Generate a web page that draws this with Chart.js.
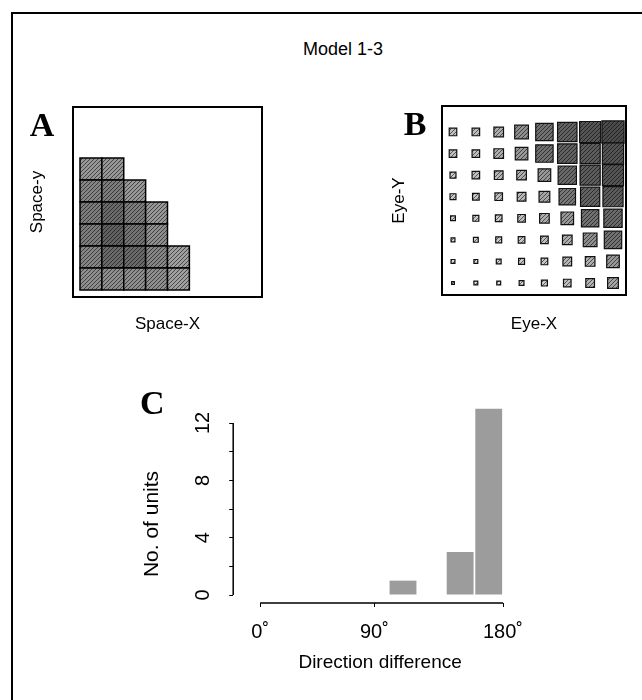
<!DOCTYPE html>
<html>
<head>
<meta charset="utf-8">
<script src="https://cdn.jsdelivr.net/npm/chart.js@4.4.1/dist/chart.umd.min.js"></script>
<style>
  body { margin: 0; background: #fff; width: 642px; height: 700px; overflow: hidden; position: relative;
         font-family: "Liberation Sans", Arial, sans-serif; }
  .frame { position: absolute; left: 11px; top: 12px; width: 700px; height: 720px;
           border-left: 2.5px solid #000; border-top: 2.5px solid #000; }
  canvas { position: absolute; }
  #heading { position: absolute; left: 343px; top: 49px; transform: translate(-50%, -50%);
             font-size: 18px; white-space: nowrap; }
</style>
</head>
<body>
<div class="frame"></div>
<div id="heading">Model 1-3</div>
<canvas id="spaceChart" width="259" height="245" style="left:13px;top:96px"></canvas>
<canvas id="eyeChart" width="256" height="245" style="left:380px;top:96px"></canvas>
<canvas id="dirChart" width="407" height="304" style="left:120px;top:372px"></canvas>
<script>
// Panel A: response of each space cell, top row first (null = no unit there)
const spaceResp = [
  [0.55, 0.55, null, null, null],
  [0.65, 0.70, 0.55, null, null],
  [0.70, 0.80, 0.70, 0.55, null],
  [0.70, 0.85, 0.75, 0.60, null],
  [0.65, 0.80, 0.80, 0.65, 0.50],
  [0.60, 0.60, 0.60, 0.60, 0.50]
];

// Panel B: square size per eye-position cell (1 = whole cell), top row first
const eyeSize = [
  [0.33, 0.33, 0.42, 0.60, 0.76, 0.85, 0.92, 0.97],
  [0.33, 0.33, 0.42, 0.55, 0.76, 0.85, 0.88, 0.93],
  [0.26, 0.33, 0.38, 0.42, 0.55, 0.80, 0.88, 0.92],
  [0.26, 0.29, 0.33, 0.38, 0.47, 0.72, 0.84, 0.88],
  [0.21, 0.26, 0.29, 0.33, 0.42, 0.55, 0.76, 0.80],
  [0.17, 0.21, 0.26, 0.29, 0.33, 0.42, 0.60, 0.76],
  [0.17, 0.17, 0.21, 0.26, 0.29, 0.38, 0.42, 0.55],
  [0.12, 0.17, 0.17, 0.21, 0.26, 0.33, 0.38, 0.47]
];

// Panel C: histogram of direction differences
const dirBins = [1, 2, 3, 4, 5, 6, 7, 8];
const unitCounts = [0, 0, 0, 0, 1, 0, 3, 13];
const dirTickPos = [0, 4, 8.5];
const dirTickLabels = ['0˚', '90˚', '180˚'];
const countTicks = [0, 2, 4, 6, 8, 10, 12];

Chart.defaults.font.family = '"Liberation Sans", Arial, sans-serif';
Chart.defaults.font.size = 17;
Chart.defaults.color = '#000';
Chart.defaults.animation = false;
Chart.defaults.plugins.legend.display = false;
Chart.defaults.plugins.tooltip.enabled = false;

// grey fill with diagonal shading lines, darker for larger values
function hatch(v) {
  const g = Math.round(250 - 180 * v);
  const d = Math.round(g * 0.45);
  const c = document.createElement('canvas');
  c.width = c.height = 4;
  const x = c.getContext('2d');
  x.fillStyle = `rgb(${g},${g},${g})`;
  x.fillRect(0, 0, 4, 4);
  x.strokeStyle = `rgb(${d},${d},${d})`;
  x.lineWidth = 1;
  x.beginPath();
  x.moveTo(0, 4); x.lineTo(4, 0);
  x.moveTo(-1, 1); x.lineTo(1, -1);
  x.moveTo(3, 5); x.lineTo(5, 3);
  x.stroke();
  return x.createPattern(c, 'repeat');
}

function cellPx(chart) {
  const sx = chart.scales.x;
  return Math.abs(sx.getPixelForValue(1) - sx.getPixelForValue(0));
}

const boxFrame = {
  id: 'boxFrame',
  afterDatasetsDraw(chart) {
    const {ctx, chartArea: a} = chart;
    ctx.save();
    ctx.lineWidth = 2;
    ctx.strokeStyle = '#000';
    ctx.strokeRect(a.left, a.top, a.right - a.left, a.bottom - a.top);
    ctx.restore();
  }
};

const panelLetter = {
  id: 'panelLetter',
  afterDraw(chart, args, opts) {
    const {ctx, chartArea: a} = chart;
    ctx.save();
    ctx.font = 'bold 34px "Liberation Serif", serif';
    ctx.fillStyle = '#000';
    ctx.textAlign = 'center';
    ctx.textBaseline = 'middle';
    ctx.fillText(opts.text, a.left + opts.dx, a.top + opts.dy);
    ctx.restore();
  }
};

function frameAxis(title, min, max, size, pad) {
  return {
    type: 'linear', min, max,
    ticks: { display: false },
    grid: { display: false },
    border: { display: false },
    title: { display: true, text: title, padding: pad },
    afterFit: s => { if (s.isHorizontal()) s.height = size; else s.width = size; }
  };
}

// A: filled space grid
const spacePts = [], spaceFill = [];
spaceResp.forEach((row, r) => row.forEach((v, c) => {
  if (v === null) return;
  spacePts.push({ x: c + 1, y: spaceResp.length - r });
  spaceFill.push(hatch(v));
}));

new Chart(document.getElementById('spaceChart'), {
  type: 'scatter',
  data: {
    datasets: [{
      data: spacePts,
      pointStyle: 'rect',
      pointRadius: ctx => cellPx(ctx.chart) / Math.SQRT2,
      pointBackgroundColor: ctx => spaceFill[ctx.dataIndex],
      pointBorderColor: '#000',
      pointBorderWidth: 1.5
    }]
  },
  options: {
    responsive: false,
    events: [],
    layout: { padding: { top: 11, right: 10, left: 0, bottom: 0 } },
    scales: {
      x: frameAxis('Space-X', 0.18, 8.82, 44, { top: 0, bottom: 6 }),
      y: frameAxis('Space-y', 0.18, 8.82, 60, { top: 14, bottom: 0 })
    },
    plugins: { panelLetter: { text: 'A', dx: -31, dy: 20 } }
  },
  plugins: [boxFrame, panelLetter]
});

// B: squares scaled by eye-position response
const eyePts = [], eyeFill = [];
eyeSize.forEach((row, r) => row.forEach((s, c) => {
  eyePts.push({ x: c + 1, y: eyeSize.length - r, s });
  eyeFill.push(hatch(s));
}));

new Chart(document.getElementById('eyeChart'), {
  type: 'scatter',
  data: {
    datasets: [{
      data: eyePts,
      pointStyle: 'rect',
      pointRadius: ctx => (ctx.raw ? ctx.raw.s : 0) * cellPx(ctx.chart) / Math.SQRT2,
      pointBackgroundColor: ctx => eyeFill[ctx.dataIndex],
      pointBorderColor: '#111',
      pointBorderWidth: 1.2
    }]
  },
  options: {
    responsive: false,
    events: [],
    layout: { padding: { top: 10, right: 10, left: 0, bottom: 0 } },
    scales: {
      x: frameAxis('Eye-X', 0.519, 8.569, 46, { top: 0, bottom: 6 }),
      y: frameAxis('Eye-Y', 0.444, 9.205, 62, { top: 9, bottom: 0 })
    },
    plugins: { panelLetter: { text: 'B', dx: -27, dy: 20 } }
  },
  plugins: [boxFrame, panelLetter]
});

// C: histogram, axis lines only span the labelled range
const axisLines = {
  id: 'axisLines',
  afterDraw(chart) {
    const {ctx, chartArea: a, scales: {x, y}} = chart;
    ctx.save();
    ctx.strokeStyle = '#000';
    ctx.lineWidth = 1.5;
    ctx.beginPath();
    ctx.moveTo(a.left, y.getPixelForValue(countTicks[0]));
    ctx.lineTo(a.left, y.getPixelForValue(countTicks[countTicks.length - 1]));
    ctx.moveTo(x.getPixelForValue(dirTickPos[0]), a.bottom);
    ctx.lineTo(x.getPixelForValue(dirTickPos[dirTickPos.length - 1]), a.bottom);
    ctx.stroke();
    ctx.restore();
  }
};

new Chart(document.getElementById('dirChart'), {
  type: 'bar',
  data: {
    datasets: [{
      data: dirBins.map((b, i) => ({ x: b, y: unitCounts[i] })),
      backgroundColor: '#9c9c9c',
      borderWidth: 0,
      barPercentage: 0.94,
      categoryPercentage: 1,
      clip: false
    }]
  },
  options: {
    responsive: false,
    events: [],
    layout: { padding: { top: 0, left: 20, right: 0, bottom: 0 } },
    scales: {
      x: {
        type: 'linear', min: -0.944, max: 9.34, offset: false,
        afterBuildTicks: s => { s.ticks = dirTickPos.map(v => ({ value: v })); },
        ticks: { autoSkip: false, maxRotation: 0, padding: 13, font: { size: 20 },
                 callback: (v, i) => dirTickLabels[i] },
        grid: { offset: false, drawOnChartArea: false, tickLength: 4, color: '#000' },
        border: { display: false },
        title: { display: true, text: 'Direction difference', font: { size: 19 },
                 padding: { top: 0, bottom: 1.6 } },
        afterFit: s => { s.height = 73; s.paddingLeft = 0; s.paddingRight = 0; }
      },
      y: {
        type: 'linear', min: -0.558, max: 12,
        afterBuildTicks: s => { s.ticks = countTicks.map(v => ({ value: v })); },
        ticks: { autoSkip: false, minRotation: 90, maxRotation: 90, crossAlign: 'center',
                 padding: 15, font: { size: 20 },
                 callback: v => (v % 4 === 0 ? v : '') },
        grid: { drawOnChartArea: false, tickLength: 4, color: '#000' },
        border: { display: false },
        afterFit: s => { s.width = 68; s.paddingTop = 0; s.paddingBottom = 0; }
      }
    },
    plugins: {
      title: { display: true, text: 'C', position: 'top', align: 'start',
               font: { family: '"Liberation Serif", serif', size: 34, weight: 'bold', lineHeight: 1 },
               padding: { top: 16, bottom: 1 } },
      subtitle: { display: true, text: 'No. of units', position: 'left',
                  font: { size: 21 }, padding: { top: 0, bottom: 0 } }
    }
  },
  plugins: [axisLines]
});
</script>
</body>
</html>
